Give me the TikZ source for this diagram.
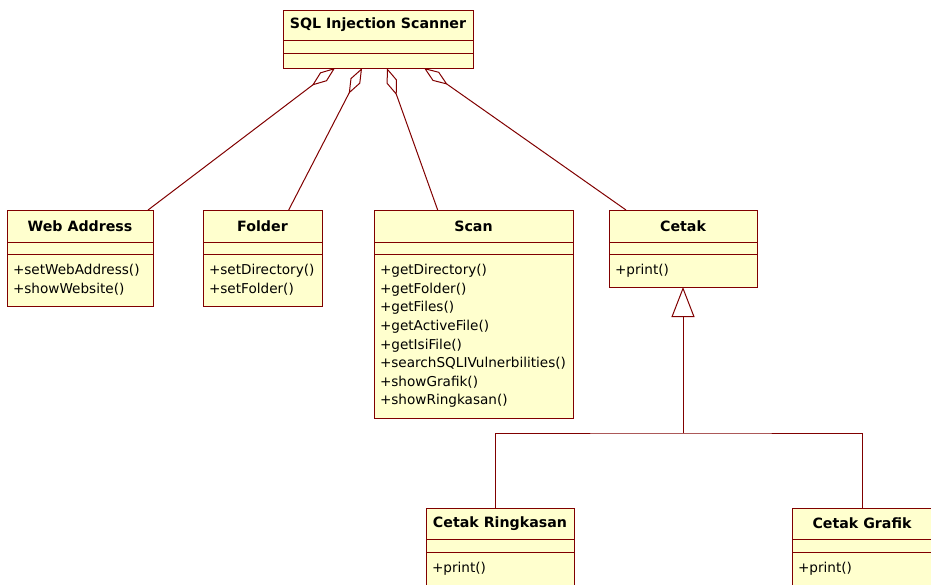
\documentclass[tikz,border=0pt]{standalone}
\usepackage{fontspec}
\setmainfont{DejaVu Sans}
\usetikzlibrary{positioning,calc,arrows.meta}
\definecolor{umlfill}{RGB}{255,255,206}
\definecolor{umlline}{RGB}{128,0,0}

\begin{document}
\begin{tikzpicture}[
  x=1pt, y=-1pt,
  part/.style={rectangle, draw=umlline, fill=umlfill, line width=1pt, outer sep=0pt},
  cname/.style={part, minimum width=#1, minimum height=32pt, inner sep=0pt, font=\fontsize{14.2}{18.6}\selectfont\bfseries},
  cattr/.style={part, minimum width=#1, minimum height=12pt, inner sep=0pt},
  cops/.style={part, text width=#1, inner xsep=6pt, inner ysep=0pt, align=left, font=\fontsize{13.6}{18.6}\selectfont},
  aggr/.style={{Diamond[open, length=29pt, width=11pt]}-, line width=1pt, draw=umlline},
  gen/.style={-{Triangle[open, length=30pt, width=23pt]}, line width=1pt, draw=umlline},
  inherit/.style={line width=1pt, draw=umlline}
]
  \useasboundingbox (0,0) rectangle (931,584);
  \clip (0,0) rectangle (931,584);

  \node[cname=190pt, minimum height=30pt, anchor=north] (scanner) at (378,10) {SQL Injection Scanner};
  \node[cattr=190pt, minimum height=13pt, below=0pt of scanner] (scanner-a) {};
  \node[cattr=190pt, minimum height=15pt, below=0pt of scanner-a] (scanner-o) {};

  \node[cname=146pt, anchor=north] (web) at (80,210) {Web Address};
  \node[cattr=146pt, below=0pt of web] (web-a) {};
  \node[cops=134pt, minimum height=52pt, below=0pt of web-a] (web-o) {+setWebAddress()\\+showWebsite()};

  \node[cname=119pt, right=50pt of web] (folder) {Folder};
  \node[cattr=119pt, below=0pt of folder] (folder-a) {};
  \node[cops=107pt, minimum height=52pt, below=0pt of folder-a] (folder-o) {+setDirectory()\\+setFolder()};

  \node[cname=199pt, right=52pt of folder] (scan) {Scan};
  \node[cattr=199pt, below=0pt of scan] (scan-a) {};
  \node[cops=187pt, minimum height=164pt, below=0pt of scan-a] (scan-o) {+getDirectory()\\+getFolder()\\+getFiles()\\+getActiveFile()\\+getIsiFile()\\+searchSQLIVulnerbilities()\\+showGrafik()\\+showRingkasan()};

  \node[cname=148pt, right=36pt of scan] (cetak) {Cetak};
  \node[cattr=148pt, below=0pt of cetak] (cetak-a) {};
  \node[cops=136pt, minimum height=33pt, below=0pt of cetak-a] (cetak-o) {+print()};

  \node[cname=148pt, minimum height=31pt, anchor=north] (ringkasan) at (500,508) {Cetak Ringkasan};
  \node[cattr=148pt, minimum height=13pt, below=0pt of ringkasan] (ringkasan-a) {};
  \node[cops=136pt, minimum height=33pt, below=0pt of ringkasan-a] (ringkasan-o) {+print()};

  \node[cname=140pt, minimum height=31pt, right=218pt of ringkasan] (grafik) {Cetak Grafik};
  \node[cattr=140pt, minimum height=13pt, below=0pt of grafik] (grafik-a) {};
  \node[cops=128pt, minimum height=33pt, below=0pt of grafik-a] (grafik-o) {+print()};

  \draw[aggr] ($(scanner-o.south west)!0.274!(scanner-o.south east)$) -- ($(web.north west)!0.966!(web.north east)$);
  \draw[aggr] ($(scanner-o.south west)!0.416!(scanner-o.south east)$) -- ($(folder.north west)!0.72!(folder.north east)$);
  \draw[aggr] ($(scanner-o.south west)!0.547!(scanner-o.south east)$) -- ($(scan.north west)!0.32!(scan.north east)$);
  \draw[aggr] ($(scanner-o.south west)!0.742!(scanner-o.south east)$) -- ($(cetak.north west)!0.115!(cetak.north east)$);

  \coordinate (split) at (cetak-o.south |- 0,433);
  \draw[gen] (split) -- (cetak-o.south);
  \draw[inherit] ($(ringkasan.north)+(-5,0)$) |- (split) -| (grafik.north);
\end{tikzpicture}
\end{document}
